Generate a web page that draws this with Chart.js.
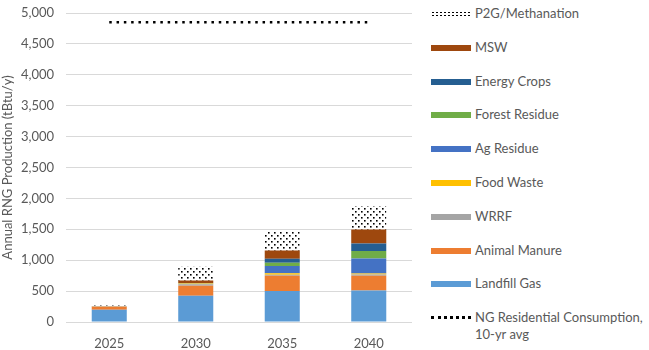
<!DOCTYPE html>
<html>
<head>
<meta charset="utf-8">
<script src="https://cdn.jsdelivr.net/npm/chart.js@4.4.1/dist/chart.umd.min.js"></script>
<style>
  body { margin: 0; background: #fff; font-family: Lato, sans-serif; }
  #wrap { position: relative; width: 649px; height: 350px; }
  #box { position: absolute; left: 0; top: 0; width: 420px; height: 350px; }
  #legend { position: absolute; left: 431px; top: 0; width: 218px; }
  .item { position: absolute; left: 0; display: flex; align-items: flex-start; color: #595959; font-size: 13px; line-height: 17px; }
  .sw { width: 40px; height: 6px; margin-top: 6px; margin-right: 4px; flex: none; }
</style>
</head>
<body>
<div id="wrap">
  <div id="box"><canvas id="rngChart"></canvas></div>
  <div id="legend"></div>
</div>
<script>
'use strict';
const years = ['2025', '2030', '2035', '2040'];
const landfillGas = [200, 425, 500, 510];
const animalManure = [45, 160, 250, 240];
const wrrf = [8, 25, 15, 20];
const foodWaste = [5, 12, 22, 15];
const agResidue = [0, 5, 120, 242];
const forestResidue = [0, 3, 50, 123];
const energyCrops = [0, 2, 65, 120];
const msw = [2, 38, 135, 227];
const p2g = [10, 225, 300, 377];
const ngResidential = [4850, 4850, 4850, 4850];

// dotted fill for P2G
const makeDots = () => {
  const c = document.createElement('canvas');
  c.width = 6;
  c.height = 6;
  const g = c.getContext('2d');
  g.fillStyle = '#fff';
  g.fillRect(0, 0, 6, 6);
  g.fillStyle = '#000';
  g.fillRect(1, 1, 1.6, 1.6);
  g.fillRect(4, 4, 1.6, 1.6);
  return g.createPattern(c, 'repeat');
};

const bar = (label, data, color) => ({
  type: 'bar',
  label,
  data,
  backgroundColor: color,
  stack: 'rng',
  barPercentage: 0.5,
  categoryPercentage: 0.81,
});

const datasets = [
  bar('Landfill Gas', landfillGas, '#5B9BD5'),
  bar('Animal Manure', animalManure, '#ED7D31'),
  bar('WRRF', wrrf, '#A5A5A5'),
  bar('Food Waste', foodWaste, '#FFC000'),
  bar('Ag Residue', agResidue, '#4472C4'),
  bar('Forest Residue', forestResidue, '#70AD47'),
  bar('Energy Crops', energyCrops, '#255E91'),
  bar('MSW', msw, '#9E480E'),
  bar('P2G/Methanation', p2g, makeDots()),
  {
    type: 'line',
    label: 'NG Residential Consumption, 10-yr avg',
    data: ngResidential,
    stack: 'ng',
    borderColor: '#000',
    borderWidth: 2.5,
    borderDash: [2.5, 4.8],
    pointRadius: 0,
    fill: false,
  },
];

const ctx = document.getElementById('rngChart');
const rngChart = new Chart(ctx, {
  data: {labels: years, datasets},
  options: {
    responsive: true,
    maintainAspectRatio: false,
    animation: false,
    layout: {padding: {top: 13, right: 8, left: 0, bottom: 0}},
    scales: {
      x: {
        stacked: true,
        grid: {display: false},
        border: {display: false},
        ticks: {color: '#595959', font: {family: 'Lato', size: 13}, padding: 6},
        afterFit: (s) => { s.height = 28; },
      },
      y: {
        stacked: true,
        min: 0,
        max: 5000,
        ticks: {stepSize: 500, color: '#595959', font: {family: 'Lato', size: 13}, padding: 12},
        grid: {color: '#d9d9d9', drawTicks: false},
        border: {display: false},
        title: {
          display: true,
          text: 'Annual RNG Production (tBtu/y)',
          color: '#595959',
          font: {family: 'Lato', size: 13},
          padding: 0,
        },
        afterFit: (s) => {
          s.width = 66;
          s.paddingTop = 0;
          s.paddingBottom = 0;
        },
      },
    },
    plugins: {
      legend: {display: false},
      tooltip: {enabled: false},
    },
  },
});

// legend on the right, top item first
const legendBox = document.getElementById('legend');
const order = datasets.slice(0, 9).reverse().concat([datasets[9]]);
order.forEach((d, i) => {
  const item = document.createElement('div');
  item.className = 'item';
  item.style.top = (5 + i * 33.8) + 'px';
  const sw = document.createElement('span');
  sw.className = 'sw';
  if (d.type === 'line') {
    sw.style.height = '0';
    sw.style.borderTop = '3px dotted #000';
    sw.style.marginTop = '7px';
  } else if (d.label === 'P2G/Methanation') {
    sw.style.background = 'radial-gradient(circle, #000 0.6px, transparent 0.9px) 0 0 / 4px 3px';
  } else {
    sw.style.background = d.backgroundColor;
  }
  const txt = document.createElement('span');
  txt.innerHTML = d.type === 'line' ? 'NG Residential Consumption,<br>10-yr avg' : d.label;
  item.appendChild(sw);
  item.appendChild(txt);
  legendBox.appendChild(item);
});
</script>
</body>
</html>
